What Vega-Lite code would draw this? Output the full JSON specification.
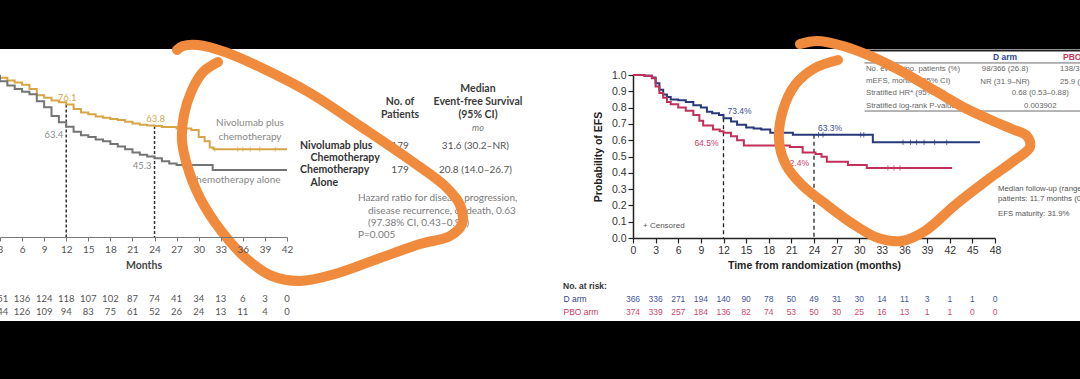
{
  "$schema": "https://vega.github.io/schema/vega-lite/v6.json",
  "background": "black",
  "autosize": {"type": "none"},
  "padding": {"left": 0, "top": 75, "right": 1080, "bottom": 304},
  "bounds": "flush",
  "columns": 2,
  "spacing": {"row": 54, "column": 346},
  "resolve": {"scale": {"color": "independent"}},
  "config": {"view": {"stroke": null}, "axis": {"grid": false, "labelOverlap": false, "labelFlush": false, "labelBound": false}},
  "datasets": {
    "leftCurves": [
      {"arm": "Nivolumab plus chemotherapy", "month": 0, "pct": 100},
      {"arm": "Nivolumab plus chemotherapy", "month": 1, "pct": 98.5},
      {"arm": "Nivolumab plus chemotherapy", "month": 2, "pct": 96},
      {"arm": "Nivolumab plus chemotherapy", "month": 2.5, "pct": 93.5},
      {"arm": "Nivolumab plus chemotherapy", "month": 3, "pct": 91.5},
      {"arm": "Nivolumab plus chemotherapy", "month": 4, "pct": 90},
      {"arm": "Nivolumab plus chemotherapy", "month": 5, "pct": 88.8},
      {"arm": "Nivolumab plus chemotherapy", "month": 6, "pct": 87.5},
      {"arm": "Nivolumab plus chemotherapy", "month": 7, "pct": 85},
      {"arm": "Nivolumab plus chemotherapy", "month": 8, "pct": 81.5},
      {"arm": "Nivolumab plus chemotherapy", "month": 9, "pct": 80},
      {"arm": "Nivolumab plus chemotherapy", "month": 10, "pct": 78.5},
      {"arm": "Nivolumab plus chemotherapy", "month": 11, "pct": 77.5},
      {"arm": "Nivolumab plus chemotherapy", "month": 12, "pct": 76.1},
      {"arm": "Nivolumab plus chemotherapy", "month": 13, "pct": 73.5},
      {"arm": "Nivolumab plus chemotherapy", "month": 14, "pct": 71.5},
      {"arm": "Nivolumab plus chemotherapy", "month": 15, "pct": 70.5},
      {"arm": "Nivolumab plus chemotherapy", "month": 16, "pct": 69.3},
      {"arm": "Nivolumab plus chemotherapy", "month": 17, "pct": 68.5},
      {"arm": "Nivolumab plus chemotherapy", "month": 18, "pct": 67.8},
      {"arm": "Nivolumab plus chemotherapy", "month": 19, "pct": 67.2},
      {"arm": "Nivolumab plus chemotherapy", "month": 20, "pct": 66.2},
      {"arm": "Nivolumab plus chemotherapy", "month": 21, "pct": 65.2},
      {"arm": "Nivolumab plus chemotherapy", "month": 22, "pct": 64.5},
      {"arm": "Nivolumab plus chemotherapy", "month": 23, "pct": 64.1},
      {"arm": "Nivolumab plus chemotherapy", "month": 24, "pct": 63.8},
      {"arm": "Nivolumab plus chemotherapy", "month": 25, "pct": 63.2},
      {"arm": "Nivolumab plus chemotherapy", "month": 27, "pct": 62.3},
      {"arm": "Nivolumab plus chemotherapy", "month": 29, "pct": 61.5},
      {"arm": "Nivolumab plus chemotherapy", "month": 30, "pct": 57.5},
      {"arm": "Nivolumab plus chemotherapy", "month": 30.8, "pct": 55},
      {"arm": "Nivolumab plus chemotherapy", "month": 31.5, "pct": 51.5},
      {"arm": "Nivolumab plus chemotherapy", "month": 32, "pct": 50.4},
      {"arm": "Nivolumab plus chemotherapy", "month": 42, "pct": 50.4},
      {"arm": "Chemotherapy alone", "month": 0, "pct": 100},
      {"arm": "Chemotherapy alone", "month": 1, "pct": 97},
      {"arm": "Chemotherapy alone", "month": 2, "pct": 93},
      {"arm": "Chemotherapy alone", "month": 3, "pct": 89.5},
      {"arm": "Chemotherapy alone", "month": 4, "pct": 87},
      {"arm": "Chemotherapy alone", "month": 5, "pct": 85},
      {"arm": "Chemotherapy alone", "month": 6, "pct": 83.5},
      {"arm": "Chemotherapy alone", "month": 7, "pct": 82},
      {"arm": "Chemotherapy alone", "month": 8, "pct": 78},
      {"arm": "Chemotherapy alone", "month": 9, "pct": 74.5},
      {"arm": "Chemotherapy alone", "month": 10, "pct": 69.5},
      {"arm": "Chemotherapy alone", "month": 11, "pct": 66},
      {"arm": "Chemotherapy alone", "month": 12, "pct": 63.4},
      {"arm": "Chemotherapy alone", "month": 13, "pct": 60.5},
      {"arm": "Chemotherapy alone", "month": 14, "pct": 58.5},
      {"arm": "Chemotherapy alone", "month": 15, "pct": 57.5},
      {"arm": "Chemotherapy alone", "month": 16, "pct": 56},
      {"arm": "Chemotherapy alone", "month": 17, "pct": 55},
      {"arm": "Chemotherapy alone", "month": 18, "pct": 53.5},
      {"arm": "Chemotherapy alone", "month": 19, "pct": 52},
      {"arm": "Chemotherapy alone", "month": 20, "pct": 50.5},
      {"arm": "Chemotherapy alone", "month": 21, "pct": 48.5},
      {"arm": "Chemotherapy alone", "month": 22, "pct": 47.2},
      {"arm": "Chemotherapy alone", "month": 23, "pct": 46.3},
      {"arm": "Chemotherapy alone", "month": 24, "pct": 45.3},
      {"arm": "Chemotherapy alone", "month": 25, "pct": 43.5},
      {"arm": "Chemotherapy alone", "month": 26, "pct": 42.2},
      {"arm": "Chemotherapy alone", "month": 27, "pct": 41.4},
      {"arm": "Chemotherapy alone", "month": 31.9, "pct": 38.5},
      {"arm": "Chemotherapy alone", "month": 42, "pct": 38.5}
    ],
    "rightCurves": [
      {"arm": "D arm", "month": 0, "efs": 1},
      {"arm": "D arm", "month": 1.5, "efs": 0.995},
      {"arm": "D arm", "month": 2.5, "efs": 0.985},
      {"arm": "D arm", "month": 3, "efs": 0.95},
      {"arm": "D arm", "month": 3.5, "efs": 0.91},
      {"arm": "D arm", "month": 4, "efs": 0.88},
      {"arm": "D arm", "month": 4.5, "efs": 0.865},
      {"arm": "D arm", "month": 5, "efs": 0.85},
      {"arm": "D arm", "month": 6, "efs": 0.845},
      {"arm": "D arm", "month": 7, "efs": 0.835},
      {"arm": "D arm", "month": 8, "efs": 0.815},
      {"arm": "D arm", "month": 9, "efs": 0.8},
      {"arm": "D arm", "month": 9.8, "efs": 0.775},
      {"arm": "D arm", "month": 10.5, "efs": 0.765},
      {"arm": "D arm", "month": 11.4, "efs": 0.755},
      {"arm": "D arm", "month": 12, "efs": 0.734},
      {"arm": "D arm", "month": 13, "efs": 0.715},
      {"arm": "D arm", "month": 13.8, "efs": 0.695},
      {"arm": "D arm", "month": 15, "efs": 0.678},
      {"arm": "D arm", "month": 16, "efs": 0.672},
      {"arm": "D arm", "month": 17, "efs": 0.665},
      {"arm": "D arm", "month": 18.2, "efs": 0.645},
      {"arm": "D arm", "month": 21.2, "efs": 0.633},
      {"arm": "D arm", "month": 31.8, "efs": 0.587},
      {"arm": "D arm", "month": 46, "efs": 0.587},
      {"arm": "PBO arm", "month": 0, "efs": 1},
      {"arm": "PBO arm", "month": 1.5, "efs": 0.995},
      {"arm": "PBO arm", "month": 2.5, "efs": 0.98},
      {"arm": "PBO arm", "month": 3, "efs": 0.93},
      {"arm": "PBO arm", "month": 3.5, "efs": 0.89},
      {"arm": "PBO arm", "month": 4, "efs": 0.86},
      {"arm": "PBO arm", "month": 4.5, "efs": 0.835},
      {"arm": "PBO arm", "month": 5, "efs": 0.82},
      {"arm": "PBO arm", "month": 6, "efs": 0.8},
      {"arm": "PBO arm", "month": 7, "efs": 0.78},
      {"arm": "PBO arm", "month": 8, "efs": 0.755},
      {"arm": "PBO arm", "month": 8.8, "efs": 0.72},
      {"arm": "PBO arm", "month": 9.3, "efs": 0.69},
      {"arm": "PBO arm", "month": 10.6, "efs": 0.665},
      {"arm": "PBO arm", "month": 11.5, "efs": 0.655},
      {"arm": "PBO arm", "month": 12, "efs": 0.645},
      {"arm": "PBO arm", "month": 13, "efs": 0.625},
      {"arm": "PBO arm", "month": 13.8, "efs": 0.6},
      {"arm": "PBO arm", "month": 14.7, "efs": 0.568},
      {"arm": "PBO arm", "month": 20.8, "efs": 0.558},
      {"arm": "PBO arm", "month": 22.5, "efs": 0.525},
      {"arm": "PBO arm", "month": 24.2, "efs": 0.515},
      {"arm": "PBO arm", "month": 25, "efs": 0.499},
      {"arm": "PBO arm", "month": 25.7, "efs": 0.468},
      {"arm": "PBO arm", "month": 28.5, "efs": 0.448},
      {"arm": "PBO arm", "month": 31, "efs": 0.43},
      {"arm": "PBO arm", "month": 42.3, "efs": 0.43}
    ],
    "leftRisk": [
      {"arm": "Nivolumab plus chemotherapy", "month": 0, "n": 179},
      {"arm": "Nivolumab plus chemotherapy", "month": 3, "n": 151},
      {"arm": "Nivolumab plus chemotherapy", "month": 6, "n": 136},
      {"arm": "Nivolumab plus chemotherapy", "month": 9, "n": 124},
      {"arm": "Nivolumab plus chemotherapy", "month": 12, "n": 118},
      {"arm": "Nivolumab plus chemotherapy", "month": 15, "n": 107},
      {"arm": "Nivolumab plus chemotherapy", "month": 18, "n": 102},
      {"arm": "Nivolumab plus chemotherapy", "month": 21, "n": 87},
      {"arm": "Nivolumab plus chemotherapy", "month": 24, "n": 74},
      {"arm": "Nivolumab plus chemotherapy", "month": 27, "n": 41},
      {"arm": "Nivolumab plus chemotherapy", "month": 30, "n": 34},
      {"arm": "Nivolumab plus chemotherapy", "month": 33, "n": 13},
      {"arm": "Nivolumab plus chemotherapy", "month": 36, "n": 6},
      {"arm": "Nivolumab plus chemotherapy", "month": 39, "n": 3},
      {"arm": "Nivolumab plus chemotherapy", "month": 42, "n": 0},
      {"arm": "Chemotherapy alone", "month": 0, "n": 179},
      {"arm": "Chemotherapy alone", "month": 3, "n": 144},
      {"arm": "Chemotherapy alone", "month": 6, "n": 126},
      {"arm": "Chemotherapy alone", "month": 9, "n": 109},
      {"arm": "Chemotherapy alone", "month": 12, "n": 94},
      {"arm": "Chemotherapy alone", "month": 15, "n": 83},
      {"arm": "Chemotherapy alone", "month": 18, "n": 75},
      {"arm": "Chemotherapy alone", "month": 21, "n": 61},
      {"arm": "Chemotherapy alone", "month": 24, "n": 52},
      {"arm": "Chemotherapy alone", "month": 27, "n": 26},
      {"arm": "Chemotherapy alone", "month": 30, "n": 24},
      {"arm": "Chemotherapy alone", "month": 33, "n": 13},
      {"arm": "Chemotherapy alone", "month": 36, "n": 11},
      {"arm": "Chemotherapy alone", "month": 39, "n": 4},
      {"arm": "Chemotherapy alone", "month": 42, "n": 0}
    ],
    "rightRisk": [
      {"arm": "D arm", "month": 0, "n": 366}, {"arm": "D arm", "month": 3, "n": 336},
      {"arm": "D arm", "month": 6, "n": 271}, {"arm": "D arm", "month": 9, "n": 194},
      {"arm": "D arm", "month": 12, "n": 140}, {"arm": "D arm", "month": 15, "n": 90},
      {"arm": "D arm", "month": 18, "n": 78}, {"arm": "D arm", "month": 21, "n": 50},
      {"arm": "D arm", "month": 24, "n": 49}, {"arm": "D arm", "month": 27, "n": 31},
      {"arm": "D arm", "month": 30, "n": 30}, {"arm": "D arm", "month": 33, "n": 14},
      {"arm": "D arm", "month": 36, "n": 11}, {"arm": "D arm", "month": 39, "n": 3},
      {"arm": "D arm", "month": 42, "n": 1}, {"arm": "D arm", "month": 45, "n": 1},
      {"arm": "D arm", "month": 48, "n": 0},
      {"arm": "PBO arm", "month": 0, "n": 374}, {"arm": "PBO arm", "month": 3, "n": 339},
      {"arm": "PBO arm", "month": 6, "n": 257}, {"arm": "PBO arm", "month": 9, "n": 184},
      {"arm": "PBO arm", "month": 12, "n": 136}, {"arm": "PBO arm", "month": 15, "n": 82},
      {"arm": "PBO arm", "month": 18, "n": 74}, {"arm": "PBO arm", "month": 21, "n": 53},
      {"arm": "PBO arm", "month": 24, "n": 50}, {"arm": "PBO arm", "month": 27, "n": 30},
      {"arm": "PBO arm", "month": 30, "n": 25}, {"arm": "PBO arm", "month": 33, "n": 16},
      {"arm": "PBO arm", "month": 36, "n": 13}, {"arm": "PBO arm", "month": 39, "n": 1},
      {"arm": "PBO arm", "month": 42, "n": 1}, {"arm": "PBO arm", "month": 45, "n": 0},
      {"arm": "PBO arm", "month": 48, "n": 0}
    ],
    "leftLoop": [
      {"i": 1, "mx": 32.62, "my": 100.57}, {"i": 2, "mx": 30.59, "my": 94.82},
      {"i": 3, "mx": 29.09, "my": 84.48}, {"i": 4, "mx": 28.0, "my": 70.11},
      {"i": 5, "mx": 27.73, "my": 55.75}, {"i": 6, "mx": 28.41, "my": 41.38},
      {"i": 7, "mx": 30.18, "my": 22.41}, {"i": 8, "mx": 33.17, "my": 2.88},
      {"i": 9, "mx": 36.7, "my": -13.22}, {"i": 10, "mx": 39.96, "my": -22.41},
      {"i": 11, "mx": 43.77, "my": -25.28}, {"i": 12, "mx": 48.52, "my": -21.26},
      {"i": 13, "mx": 54.64, "my": -12.07}, {"i": 14, "mx": 60.07, "my": -4.02},
      {"i": 15, "mx": 64.15, "my": 0.58}, {"i": 16, "mx": 65.78, "my": 7.47},
      {"i": 17, "mx": 65.51, "my": 18.39}, {"i": 18, "mx": 63.47, "my": 29.31},
      {"i": 19, "mx": 58.72, "my": 44.25}, {"i": 20, "mx": 51.92, "my": 63.79},
      {"i": 21, "mx": 45.13, "my": 82.76}, {"i": 22, "mx": 38.6, "my": 97.12},
      {"i": 23, "mx": 33.57, "my": 106.32}, {"i": 24, "mx": 29.91, "my": 110.34},
      {"i": 25, "mx": 27.87, "my": 109.77}, {"i": 26, "mx": 27.05, "my": 107.47}
    ],
    "rightLoop": [
      {"i": 1, "mx": 27.18, "my": 1.092}, {"i": 2, "mx": 24.13, "my": 1.043},
      {"i": 3, "mx": 21.48, "my": 0.939}, {"i": 4, "mx": 19.89, "my": 0.785},
      {"i": 5, "mx": 19.36, "my": 0.601}, {"i": 6, "mx": 20.29, "my": 0.448},
      {"i": 7, "mx": 22.41, "my": 0.325}, {"i": 8, "mx": 25.72, "my": 0.202},
      {"i": 9, "mx": 29.17, "my": 0.086}, {"i": 10, "mx": 32.49, "my": 0.0},
      {"i": 11, "mx": 35.67, "my": -0.018}, {"i": 12, "mx": 38.72, "my": 0.043},
      {"i": 13, "mx": 42.7, "my": 0.202}, {"i": 14, "mx": 47.34, "my": 0.368},
      {"i": 15, "mx": 50.65, "my": 0.479}, {"i": 16, "mx": 52.64, "my": 0.558},
      {"i": 17, "mx": 52.24, "my": 0.626}, {"i": 18, "mx": 50.25, "my": 0.669},
      {"i": 19, "mx": 47.73, "my": 0.718}, {"i": 20, "mx": 44.29, "my": 0.791},
      {"i": 21, "mx": 40.31, "my": 0.896}, {"i": 22, "mx": 35.8, "my": 1.018},
      {"i": 23, "mx": 31.43, "my": 1.117}, {"i": 24, "mx": 27.85, "my": 1.178},
      {"i": 25, "mx": 24.4, "my": 1.209}, {"i": 26, "mx": 22.14, "my": 1.19}
    ]
  },
  "concat": [
    {
      "width": 287,
      "height": 162,
      "layer": [
        {
          "data": {"values": [{}]},
          "mark": {"type": "rect", "color": "white", "clip": false},
          "encoding": {
            "x": {"datum": -30, "type": "quantitative"},
            "x2": {"datum": 200, "type": "quantitative"},
            "y": {"datum": 108.04, "type": "quantitative", "axis": null},
            "y2": {"datum": -48.27, "type": "quantitative"}
          }
        },
        {
          "data": {"values": [{"month": 12, "pct": 76.1}, {"month": 24, "pct": 63.8}]},
          "mark": {"type": "rule", "color": "#333", "strokeWidth": 1.5, "strokeDash": [3, 2]},
          "encoding": {
            "x": {"field": "month", "type": "quantitative"},
            "y": {"field": "pct", "type": "quantitative", "axis": null},
            "y2": {"datum": 0, "type": "quantitative"}
          }
        },
        {
          "data": {"name": "leftCurves"},
          "mark": {"type": "line", "interpolate": "step-after", "strokeWidth": 2, "clip": true},
          "encoding": {
            "x": {
              "field": "month", "type": "quantitative",
              "scale": {"domain": [3, 42], "nice": false, "zero": false},
              "axis": {
                "values": [3, 6, 9, 12, 15, 18, 21, 24, 27, 30, 33, 36, 39, 42],
                "tickCount": 60,
                "format": "d",
                "zindex": 1,
                "title": "Months", "titleFont": "Lato", "titleFontSize": 10.5, "titleFontWeight": "bold",
                "titleColor": "#444", "titlePadding": 6,
                "labelFont": "Lato", "labelFontSize": 10, "labelColor": "#555", "labelPadding": 3,
                "labelFlush": false, "labelOverlap": false,
                "tickSize": 4, "tickColor": "#777", "domainColor": "#777"
              }
            },
            "y": {
              "field": "pct", "type": "quantitative",
              "scale": {"domain": [0, 93.1], "nice": false, "zero": false},
              "axis": null
            },
            "color": {
              "field": "arm", "type": "nominal",
              "scale": {"domain": ["Nivolumab plus chemotherapy", "Chemotherapy alone"], "range": ["#d8a546", "#747474"]},
              "legend": null
            }
          }
        },
        {
          "data": {"values": [
            {"month": 32.2, "pct": 50.4}, {"month": 35.3, "pct": 50.4}, {"month": 36.0, "pct": 50.4},
            {"month": 37.0, "pct": 50.4}, {"month": 38.3, "pct": 50.4}, {"month": 40.4, "pct": 50.4}
          ]},
          "mark": {"type": "tick", "orient": "vertical", "size": 5, "thickness": 1, "color": "#d8a546"},
          "encoding": {
            "x": {"field": "month", "type": "quantitative"},
            "y": {"field": "pct", "type": "quantitative", "axis": null}
          }
        },
        {
          "data": {"values": [
            {"arm": "Nivolumab plus chemotherapy", "month": 12, "pct": 76.1, "label": "76.1"},
            {"arm": "Nivolumab plus chemotherapy", "month": 24, "pct": 63.8, "label": "63.8"}
          ]},
          "mark": {"type": "text", "font": "Lato", "fontSize": 9.5, "color": "#d6a650", "align": "center", "baseline": "middle", "dx": 1, "dy": -7},
          "encoding": {
            "x": {"field": "month", "type": "quantitative"},
            "y": {"field": "pct", "type": "quantitative", "axis": null},
            "text": {"field": "label", "type": "nominal"}
          }
        },
        {
          "data": {"values": [
            {"arm": "Chemotherapy alone", "month": 12, "pct": 63.4, "label": "63.4"},
            {"arm": "Chemotherapy alone", "month": 24, "pct": 45.3, "label": "45.3"}
          ]},
          "mark": {"type": "text", "font": "Lato", "fontSize": 9.5, "color": "#8a8a8a", "align": "right", "baseline": "middle", "dx": -3, "dy": 8},
          "encoding": {
            "x": {"field": "month", "type": "quantitative"},
            "y": {"field": "pct", "type": "quantitative", "axis": null},
            "text": {"field": "label", "type": "nominal"}
          }
        },
        {
          "data": {"values": [{}]},
          "mark": {"type": "text", "font": "Lato", "fontSize": 10, "color": "#888", "align": "center", "baseline": "middle", "lineHeight": 14},
          "encoding": {"x": {"datum": 36.97, "type": "quantitative"}, "y": {"datum": 65.52, "type": "quantitative", "axis": null}, "text": {"value": ["Nivolumab plus", "chemotherapy"]}}
        },
        {
          "data": {"values": [{}]},
          "mark": {"type": "text", "font": "Lato", "fontSize": 10, "color": "#888", "align": "center", "baseline": "middle"},
          "encoding": {"x": {"datum": 34.93, "type": "quantitative"}, "y": {"datum": 32.76, "type": "quantitative", "axis": null}, "text": {"value": "Chemotherapy alone"}}
        },
        {
          "data": {"values": [{}]},
          "mark": {"type": "text", "font": "Lato", "fontSize": 10.5, "fontWeight": "bold", "color": "#3a3a3a", "align": "center", "baseline": "middle", "lineHeight": 13},
          "encoding": {"x": {"datum": 67.95, "type": "quantitative"}, "y": {"datum": 85.05, "type": "quantitative", "axis": null}, "text": {"value": ["Median", "Event-free Survival", "(95% CI)"]}}
        },
        {
          "data": {"values": [{}]},
          "mark": {"type": "text", "font": "Lato", "fontSize": 9, "fontStyle": "italic", "color": "#777", "align": "center", "baseline": "middle"},
          "encoding": {"x": {"datum": 67.95, "type": "quantitative"}, "y": {"datum": 62.64, "type": "quantitative", "axis": null}, "text": {"value": "mo"}}
        },
        {
          "data": {"values": [{}]},
          "mark": {"type": "text", "font": "Lato", "fontSize": 10.5, "fontWeight": "bold", "color": "#3a3a3a", "align": "center", "baseline": "middle", "lineHeight": 13},
          "encoding": {"x": {"datum": 57.36, "type": "quantitative"}, "y": {"datum": 77.58, "type": "quantitative", "axis": null}, "text": {"value": ["No. of", "Patients"]}}
        },
        {
          "data": {"values": [{}]},
          "mark": {"type": "text", "font": "Lato", "fontSize": 10.5, "fontWeight": "bold", "color": "#333", "align": "left", "baseline": "middle", "lineHeight": 23.5},
          "encoding": {"x": {"datum": 43.77, "type": "quantitative"}, "y": {"datum": 52.01, "type": "quantitative", "axis": null}, "text": {"value": ["Nivolumab plus", "Chemotherapy"]}}
        },
        {
          "data": {"values": [{}]},
          "mark": {"type": "text", "font": "Lato", "fontSize": 10.5, "fontWeight": "bold", "color": "#333", "align": "left", "baseline": "middle", "lineHeight": 25},
          "encoding": {"x": {"datum": 45.2, "type": "quantitative"}, "y": {"datum": 45.4, "type": "quantitative", "axis": null}, "text": {"value": ["Chemotherapy", "Alone"]}}
        },
        {
          "data": {"values": [{}]},
          "mark": {"type": "text", "font": "Lato", "fontSize": 10, "color": "#555", "align": "center", "baseline": "middle", "lineHeight": 23.5},
          "encoding": {"x": {"datum": 57.36, "type": "quantitative"}, "y": {"datum": 52.01, "type": "quantitative", "axis": null}, "text": {"value": ["179", "179"]}}
        },
        {
          "data": {"values": [{}]},
          "mark": {"type": "text", "font": "Lato", "fontSize": 10, "color": "#555", "align": "center", "baseline": "middle", "lineHeight": 23.5},
          "encoding": {"x": {"datum": 67.6, "type": "quantitative"}, "y": {"datum": 52.01, "type": "quantitative", "axis": null}, "text": {"value": ["31.6 (30.2–NR)", "20.8 (14.0–26.7)"]}}
        },
        {
          "data": {"values": [{}]},
          "mark": {"type": "text", "font": "Lato", "fontSize": 10, "color": "#7a7a7a", "align": "left", "baseline": "middle", "lineHeight": 37},
          "encoding": {"x": {"datum": 51.65, "type": "quantitative"}, "y": {"datum": 22.41, "type": "quantitative", "axis": null}, "text": {"value": ["Hazard ratio for disease progression,", "P=0.005"]}}
        },
        {
          "data": {"values": [{}]},
          "mark": {"type": "text", "font": "Lato", "fontSize": 10, "color": "#7a7a7a", "align": "left", "baseline": "middle", "lineHeight": 12},
          "encoding": {"x": {"datum": 53.01, "type": "quantitative"}, "y": {"datum": 14.94, "type": "quantitative", "axis": null}, "text": {"value": ["disease recurrence, or death, 0.63", "(97.38% CI, 0.43–0.91)"]}}
        },
        {
          "data": {"name": "leftLoop"},
          "mark": {"type": "line", "color": "#F08A3C", "strokeWidth": 10, "strokeCap": "round", "strokeJoin": "round", "interpolate": "catmull-rom", "clip": false},
          "encoding": {
            "x": {"field": "mx", "type": "quantitative"},
            "y": {"field": "my", "type": "quantitative", "axis": null},
            "order": {"field": "i", "type": "quantitative"}
          }
        }
      ]
    },
    {
      "width": 362,
      "height": 163,
      "layer": [
        {
          "data": {"values": [{"month": 12, "efs": 0.734}, {"month": 24, "efs": 0.633}]},
          "mark": {"type": "rule", "color": "#222", "strokeWidth": 1.3, "strokeDash": [4, 3]},
          "encoding": {
            "x": {"field": "month", "type": "quantitative"},
            "y": {"field": "efs", "type": "quantitative"},
            "y2": {"datum": 0, "type": "quantitative"}
          }
        },
        {
          "data": {"name": "rightCurves"},
          "mark": {"type": "line", "interpolate": "step-after", "strokeWidth": 2},
          "encoding": {
            "x": {
              "field": "month", "type": "quantitative",
              "scale": {"domain": [0, 48], "nice": false, "zero": false},
              "axis": {
                "values": [0, 3, 6, 9, 12, 15, 18, 21, 24, 27, 30, 33, 36, 39, 42, 45, 48],
                "tickCount": 60,
                "format": "d",
                "title": "Time from randomization (months)", "titleFont": "Liberation Sans", "titleFontSize": 10.5,
                "titleFontWeight": "bold", "titleColor": "#222", "titlePadding": 5,
                "labelFont": "Liberation Sans", "labelFontSize": 10.5, "labelColor": "#333", "labelPadding": 2,
                "labelFlush": false, "labelOverlap": false,
                "tickSize": 5, "tickColor": "#222", "domainColor": "#222", "domainWidth": 1.5, "tickWidth": 1.2
              }
            },
            "y": {
              "field": "efs", "type": "quantitative",
              "scale": {"domain": [0, 1], "nice": false, "zero": false},
              "axis": {
                "values": [0, 0.1, 0.2, 0.3, 0.4, 0.5, 0.6, 0.7, 0.8, 0.9, 1.0],
                "tickCount": 60,
                "format": ".1f",
                "title": "Probability of EFS", "titleFont": "Liberation Sans", "titleFontSize": 10.5,
                "titleFontWeight": "bold", "titleColor": "#222", "titlePadding": 8,
                "labelFont": "Liberation Sans", "labelFontSize": 10.5, "labelColor": "#333", "labelPadding": 2,
                "labelFlush": false, "labelOverlap": false,
                "tickSize": 5, "tickColor": "#222", "domainColor": "#222", "domainWidth": 1.5, "tickWidth": 1.2
              }
            },
            "color": {
              "field": "arm", "type": "nominal",
              "scale": {"domain": ["D arm", "PBO arm"], "range": ["#27397a", "#c2305a"]},
              "legend": null
            }
          }
        },
        {
          "data": {"values": [
            {"arm": "D arm", "month": 24.6, "efs": 0.633}, {"arm": "D arm", "month": 25.2, "efs": 0.633},
            {"arm": "D arm", "month": 30.2, "efs": 0.633}, {"arm": "D arm", "month": 30.6, "efs": 0.633},
            {"arm": "D arm", "month": 35.8, "efs": 0.587}, {"arm": "D arm", "month": 36.8, "efs": 0.587},
            {"arm": "D arm", "month": 37.6, "efs": 0.587}, {"arm": "D arm", "month": 38.6, "efs": 0.587},
            {"arm": "D arm", "month": 40.0, "efs": 0.587}, {"arm": "D arm", "month": 41.6, "efs": 0.587},
            {"arm": "PBO arm", "month": 33.8, "efs": 0.43}, {"arm": "PBO arm", "month": 34.6, "efs": 0.43},
            {"arm": "PBO arm", "month": 35.4, "efs": 0.43}
          ]},
          "mark": {"type": "point", "shape": "M-1,0H1M0,-1V1", "size": 30, "filled": false, "strokeWidth": 1},
          "encoding": {
            "x": {"field": "month", "type": "quantitative"},
            "y": {"field": "efs", "type": "quantitative"},
            "color": {"field": "arm", "type": "nominal", "legend": null}
          }
        },
        {
          "data": {"values": [
            {"arm": "D arm", "month": 12, "efs": 0.734, "label": "73.4%"},
            {"arm": "D arm", "month": 24, "efs": 0.633, "label": "63.3%"}
          ]},
          "mark": {"type": "text", "font": "Liberation Sans", "fontSize": 8.5, "color": "#3b4f94", "align": "left", "baseline": "middle", "dx": 4, "dy": -7},
          "encoding": {
            "x": {"field": "month", "type": "quantitative"},
            "y": {"field": "efs", "type": "quantitative"},
            "text": {"field": "label", "type": "nominal"}
          }
        },
        {
          "data": {"values": [
            {"arm": "PBO arm", "month": 12, "efs": 0.645, "label": "64.5%"},
            {"arm": "PBO arm", "month": 24, "efs": 0.524, "label": "52.4%"}
          ]},
          "mark": {"type": "text", "font": "Liberation Sans", "fontSize": 8.5, "color": "#c8406a", "align": "right", "baseline": "middle", "dx": -5, "dy": 10},
          "encoding": {
            "x": {"field": "month", "type": "quantitative"},
            "y": {"field": "efs", "type": "quantitative"},
            "text": {"field": "label", "type": "nominal"}
          }
        },
        {
          "data": {"values": [{}]},
          "mark": {"type": "rule", "color": "#222", "strokeWidth": 2},
          "encoding": {"x": {"datum": 30.7, "type": "quantitative"}, "x2": {"datum": 70, "type": "quantitative"}, "y": {"datum": 1.15, "type": "quantitative"}}
        },
        {
          "data": {"values": [{}]},
          "mark": {"type": "rule", "color": "#444", "strokeWidth": 0.8},
          "encoding": {"x": {"datum": 30.7, "type": "quantitative"}, "x2": {"datum": 70, "type": "quantitative"}, "y": {"datum": 1.074, "type": "quantitative"}}
        },
        {
          "data": {"values": [{}]},
          "mark": {"type": "rule", "color": "#444", "strokeWidth": 0.8},
          "encoding": {"x": {"datum": 30.7, "type": "quantitative"}, "x2": {"datum": 70, "type": "quantitative"}, "y": {"datum": 0.779, "type": "quantitative"}}
        },
        {
          "data": {"values": [{}]},
          "mark": {"type": "text", "font": "Liberation Sans", "fontSize": 8.5, "fontWeight": "bold", "color": "#2f4690", "align": "center", "baseline": "middle"},
          "encoding": {"x": {"datum": 49.33, "type": "quantitative"}, "y": {"datum": 1.11, "type": "quantitative"}, "text": {"value": "D arm"}}
        },
        {
          "data": {"values": [{}]},
          "mark": {"type": "text", "font": "Liberation Sans", "fontSize": 8.5, "fontWeight": "bold", "color": "#c8385a", "align": "left", "baseline": "middle"},
          "encoding": {"x": {"datum": 57.02, "type": "quantitative"}, "y": {"datum": 1.11, "type": "quantitative"}, "text": {"value": "PBO arm"}}
        },
        {
          "data": {"values": [{}]},
          "mark": {"type": "text", "font": "Liberation Sans", "fontSize": 7.8, "color": "#666", "align": "left", "baseline": "middle", "lineHeight": 12.2},
          "encoding": {"x": {"datum": 30.89, "type": "quantitative"}, "y": {"datum": 1.0368, "type": "quantitative"}, "text": {"value": ["No. events/no. patients (%)", "mEFS, months (95% CI)", "Stratified HR* (95% CI)", "Stratified log-rank P-value"]}}
        },
        {
          "data": {"values": [{}]},
          "mark": {"type": "text", "font": "Liberation Sans", "fontSize": 7.8, "color": "#666", "align": "center", "baseline": "middle", "lineHeight": 13.3},
          "encoding": {"x": {"datum": 49.33, "type": "quantitative"}, "y": {"datum": 1.0368, "type": "quantitative"}, "text": {"value": ["98/366 (26.8)", "NR (31.9–NR)"]}}
        },
        {
          "data": {"values": [{}]},
          "mark": {"type": "text", "font": "Liberation Sans", "fontSize": 7.8, "color": "#666", "align": "left", "baseline": "middle", "lineHeight": 13.3},
          "encoding": {"x": {"datum": 56.62, "type": "quantitative"}, "y": {"datum": 1.0368, "type": "quantitative"}, "text": {"value": ["138/374 (36.9)", "25.9 (18.9–NR)"]}}
        },
        {
          "data": {"values": [{}]},
          "mark": {"type": "text", "font": "Liberation Sans", "fontSize": 7.8, "color": "#666", "align": "center", "baseline": "middle", "lineHeight": 12.4},
          "encoding": {"x": {"datum": 54.0, "type": "quantitative"}, "y": {"datum": 0.8877, "type": "quantitative"}, "text": {"value": ["0.68 (0.53–0.88)", "0.003902"]}}
        },
        {
          "data": {"values": [{}]},
          "mark": {"type": "text", "font": "Liberation Sans", "fontSize": 8, "color": "#555", "align": "left", "baseline": "middle"},
          "encoding": {"x": {"datum": 1.33, "type": "quantitative"}, "y": {"datum": 0.0736, "type": "quantitative"}, "text": {"value": "+  Censored"}}
        },
        {
          "data": {"values": [{}]},
          "mark": {"type": "text", "font": "Liberation Sans", "fontSize": 7.8, "color": "#555", "align": "left", "baseline": "middle", "lineHeight": 10},
          "encoding": {"x": {"datum": 48.4, "type": "quantitative"}, "y": {"datum": 0.3006, "type": "quantitative"}, "text": {"value": ["Median follow-up (range) in all", "patients: 11.7 months (0.0–46.1)"]}}
        },
        {
          "data": {"values": [{}]},
          "mark": {"type": "text", "font": "Liberation Sans", "fontSize": 7.8, "color": "#555", "align": "left", "baseline": "middle"},
          "encoding": {"x": {"datum": 48.4, "type": "quantitative"}, "y": {"datum": 0.1472, "type": "quantitative"}, "text": {"value": "EFS maturity: 31.9%"}}
        },
        {
          "data": {"name": "rightLoop"},
          "mark": {"type": "line", "color": "#F08A3C", "strokeWidth": 10, "strokeCap": "round", "strokeJoin": "round", "interpolate": "catmull-rom", "clip": false},
          "encoding": {
            "x": {"field": "mx", "type": "quantitative"},
            "y": {"field": "my", "type": "quantitative"},
            "order": {"field": "i", "type": "quantitative"}
          }
        }
      ]
    },
    {
      "width": 287,
      "height": 26,
      "data": {"name": "leftRisk"},
      "mark": {"type": "text", "font": "Lato", "fontSize": 9.5, "color": "#555", "baseline": "middle"},
      "encoding": {
        "x": {"field": "month", "type": "quantitative", "scale": {"domain": [3, 42], "nice": false, "zero": false}, "axis": null},
        "y": {"field": "arm", "type": "nominal", "scale": {"domain": ["Nivolumab plus chemotherapy", "Chemotherapy alone"]}, "axis": null},
        "text": {"field": "n", "type": "quantitative"}
      }
    },
    {
      "width": 362,
      "height": 26,
      "title": {"text": "No. at risk:", "anchor": "start", "frame": "group", "dx": -70, "dy": 9, "font": "Liberation Sans", "fontSize": 8.5, "fontWeight": "bold", "color": "#333", "baseline": "bottom", "offset": 2},
      "data": {"name": "rightRisk"},
      "mark": {"type": "text", "font": "Liberation Sans", "fontSize": 8.5, "baseline": "middle"},
      "encoding": {
        "x": {"field": "month", "type": "quantitative", "scale": {"domain": [0, 48], "nice": false, "zero": false}, "axis": null},
        "y": {
          "field": "arm", "type": "nominal", "scale": {"domain": ["D arm", "PBO arm"]},
          "axis": {
            "title": null, "domain": false, "ticks": false, "tickSize": 0, "labelAlign": "left", "labelPadding": 70,
            "labelFont": "Liberation Sans", "labelFontSize": 8.5,
            "labelColor": {"condition": {"test": "datum.value == 'D arm'", "value": "#2f4690"}, "value": "#cc3a5f"}
          }
        },
        "color": {
          "field": "arm", "type": "nominal",
          "scale": {"domain": ["D arm", "PBO arm"], "range": ["#44579a", "#d04a6e"]},
          "legend": null
        },
        "text": {"field": "n", "type": "quantitative"}
      }
    }
  ]
}
